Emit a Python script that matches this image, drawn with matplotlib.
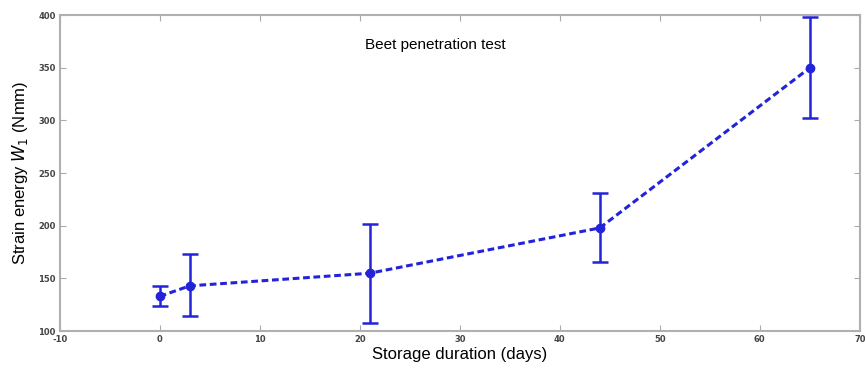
import numpy as np
import matplotlib.pyplot as plt

plt.rcParams['axes.unicode_minus'] = False

days = [0, 3, 21, 44, 65]
energy = [133, 143, 155, 198, 350]
err_low = [124, 114, 108, 166, 302]
err_high = [143, 173, 202, 231, 398]

yerr = [np.array(energy) - np.array(err_low), np.array(err_high) - np.array(energy)]

fig = plt.figure(figsize=(8.65, 3.7), dpi=100)
ax = fig.add_axes([0.069, 0.105, 0.925, 0.854])

line, caps, bars = ax.errorbar(days, energy, yerr=yerr, color='#2323d8', ls='--', lw=2.2,
                               marker='o', ms=6, capsize=6, capthick=1.8, elinewidth=1.8)
line.set_dashes((2.2, 1.2))

ax.set_xlim(-10, 70)
ax.set_ylim(100, 400)
ax.set_xticks(np.arange(-10, 71, 10))
ax.set_yticks(np.arange(100, 401, 50))
ax.tick_params(direction='in', top=True, right=True, length=4, width=0.8,
               color='#aaaaaa', labelsize=6, labelcolor='#444444', pad=3)
for lab in ax.get_xticklabels() + ax.get_yticklabels():
    lab.set_fontweight('bold')
for s in ax.spines.values():
    s.set_color('#b0b0b0')
    s.set_linewidth(1.5)

ax.text(0.47, 0.905, 'Beet penetration test', transform=ax.transAxes,
        ha='center', va='center', fontsize=11, family='Liberation Sans')
ax.set_xlabel('Storage duration (days)', fontsize=12, family='Liberation Sans', labelpad=2)
ax.set_ylabel('Strain energy $W_1$ (Nmm)', fontsize=12, family='Liberation Sans', labelpad=6)

fig.savefig('out.png', dpi=100)
